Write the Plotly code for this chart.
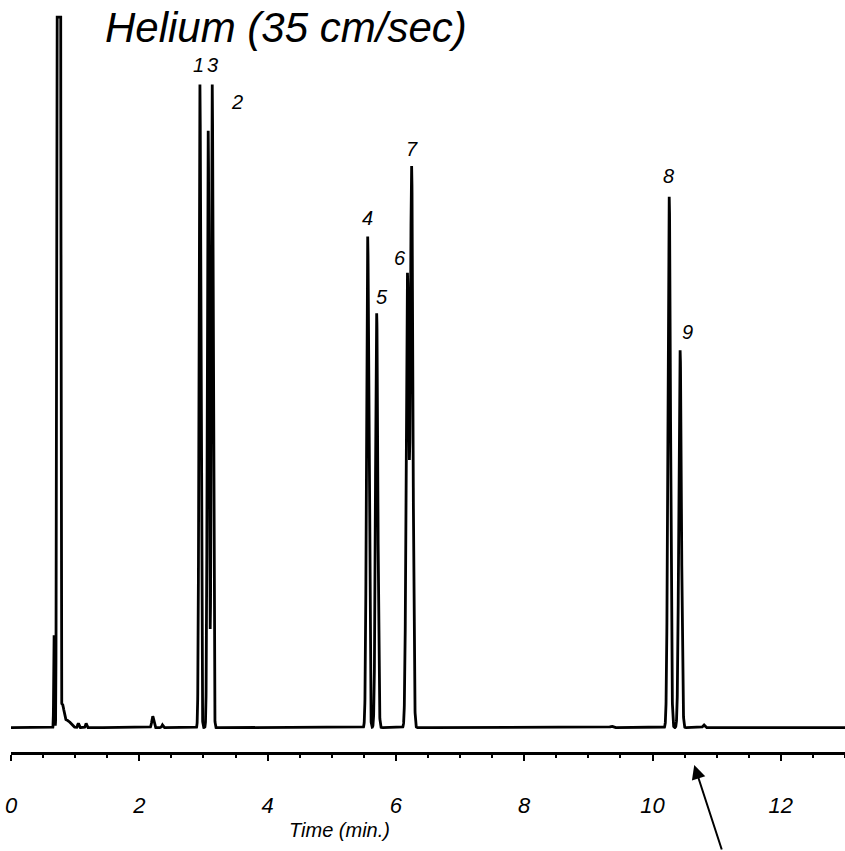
import numpy as np
import plotly.graph_objects as go

# ---------------- data ----------------
peak_labels = ["1", "2", "3", "4", "5", "6", "7", "8", "9"]
peak_rt = [2.945, 3.074, 3.137, 5.56, 5.70, 6.18, 6.245, 10.26, 10.43]      # min
peak_height = [90.5, 84.0, 90.5, 69.1, 58.3, 63.6, 78.7, 74.7, 53.1]        # signal units
peak_sigma = [0.014, 0.014, 0.014, 0.018, 0.018, 0.020, 0.020, 0.020, 0.020]  # min

solvent_rt = 0.742
solvent_height = 10000.0
solvent_sigma = 0.011
detector_max = 100.0

minor_rt = [0.672, 0.80, 0.88, 1.05, 1.17, 2.21, 2.36, 9.36, 10.80]
minor_height = [13.0, 3.0, 1.0, 0.6, 0.6, 1.6, 0.4, 0.2, 0.4]
minor_sigma = [0.006, 0.025, 0.05, 0.01, 0.01, 0.015, 0.01, 0.02, 0.015]

x_tick_vals = [0, 2, 4, 6, 8, 10, 12]
x_tick_text = ["0", "2", "4", "6", "8", "10", "12"]

title_text = "Helium (35 cm/sec)"
x_title = "Time (min.)"
arrow_time = 10.65

# label placement (layout, data coords of label centres)
label_pos = [(2.93, 93.2), (3.52, 88.0), (3.135, 93.2), (5.56, 71.7), (5.78, 60.6),
             (6.06, 66.1), (6.245, 81.4), (10.25, 77.6), (10.54, 55.7)]

# ---------------- signal ----------------
t = np.arange(0, 13.0005, 0.001)
sig = np.zeros_like(t)
sig += solvent_height * np.exp(-0.5 * ((t - solvent_rt) / solvent_sigma) ** 2)
for rt, h, s in zip(minor_rt, minor_height, minor_sigma):
    sig += h * np.exp(-0.5 * ((t - rt) / s) ** 2)
for rt, h, s in zip(peak_rt, peak_height, peak_sigma):
    sig += h * np.exp(-0.5 * ((t - rt) / s) ** 2)
sig = np.minimum(sig, detector_max)

FONT = "Liberation Sans, Arial, sans-serif"

fig = go.Figure()
fig.add_trace(go.Scatter(x=t, y=sig, mode="lines",
                         line=dict(color="black", width=2.8),
                         hoverinfo="skip", showlegend=False))

for lab, (lx, ly) in zip(peak_labels, label_pos):
    fig.add_annotation(x=lx, y=ly, text=lab, showarrow=False,
                       font=dict(family=FONT, size=20, color="black", style="italic"),
                       xanchor="center", yanchor="middle")

fig.add_annotation(x=0.33, y=0.977, xref="paper", yref="paper", text=title_text,
                   showarrow=False, xanchor="center", yanchor="middle",
                   font=dict(family=FONT, size=42, color="black", style="italic"))

fig.add_annotation(x=5.12, y=-0.105, xref="x", yref="paper", text=x_title,
                   showarrow=False, xanchor="center", yanchor="middle",
                   font=dict(family=FONT, size=20, color="black", style="italic"))

fig.add_annotation(x=arrow_time, y=-0.0175, xref="x", yref="paper", text="",
                   showarrow=True, ax=28, ay=88, axref="pixel", ayref="pixel",
                   arrowhead=2, arrowsize=1.4, arrowwidth=2, arrowcolor="black")

fig.update_layout(
    width=845, height=851,
    margin=dict(l=11, r=0, t=10, b=99),
    paper_bgcolor="white", plot_bgcolor="white",
    xaxis=dict(range=[0, 13], showgrid=False, zeroline=False,
               showline=True, linecolor="black", linewidth=3,
               ticks="outside", ticklen=6, tickwidth=2, tickcolor="black",
               tickvals=x_tick_vals, ticktext=x_tick_text,
               ticklabelstandoff=26,
               tickfont=dict(family=FONT, size=22, color="black", style="italic"),
               minor=dict(dtick=0.5, ticks="outside", ticklen=3, tickwidth=2,
                          tickcolor="black", showgrid=False)),
    yaxis=dict(range=[-3.42, 100.99], visible=False),
)

fig.write_html("out.html")
